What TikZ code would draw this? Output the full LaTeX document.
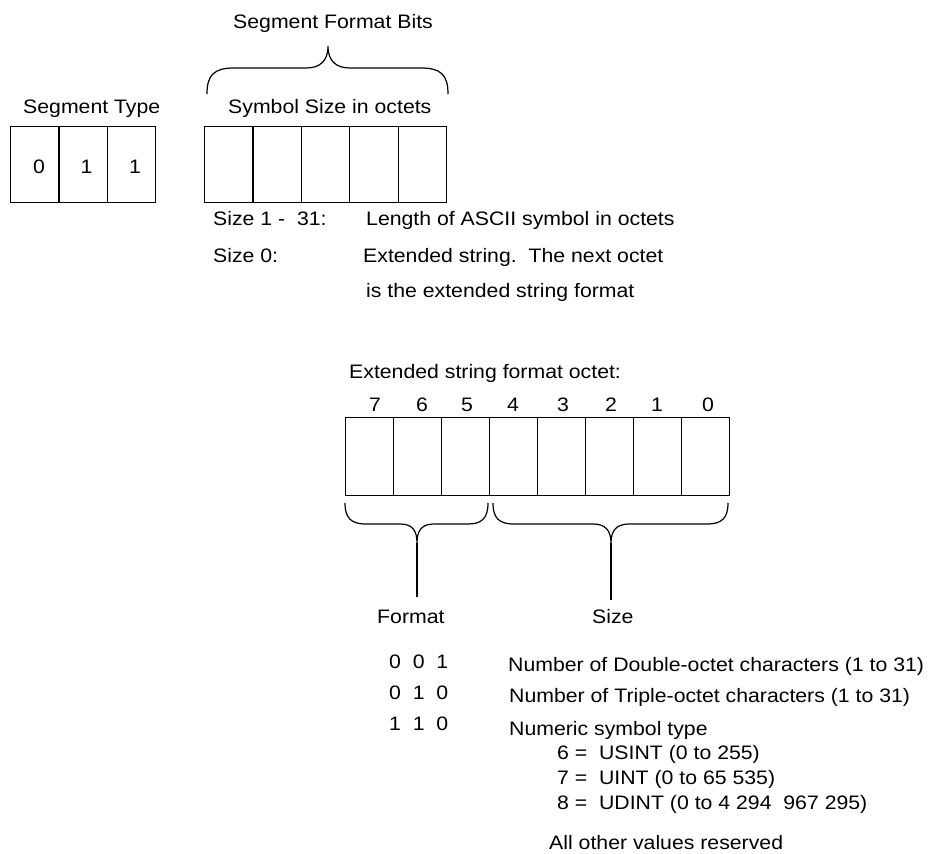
\documentclass[tikz,border=0pt]{standalone}
\usepackage{fontspec}
\setmainfont{Liberation Sans}[FakeStretch=1.09]
\begin{document}
\begin{tikzpicture}[x=1pt,y=-1pt,
  every node/.style={font=\fontsize{19.5pt}{23pt}\selectfont, inner sep=0pt},
  txt/.style={anchor=base west},
  ctr/.style={anchor=base},
  cell/.style={draw, line width=1.2pt, anchor=north west, minimum height=#1},
  cell/.default=76pt,
  brace/.style={line width=1.2pt},
  lead/.style={line width=1.2pt}]
\useasboundingbox (0,0) rectangle (929,854);

% segment type field
\foreach \i/\x in {1/10,2/58.3,3/106.7}
  \node[cell, minimum width=48.3pt] (st\i) at (\x,126) {};
\node[ctr] (d1) at (39,173) {0};
\node[ctr] (d2) at (86.5,173) {1};
\node[ctr] (d3) at (135,173) {1};
\node[txt] (sttitle) at (23,113) {Segment Type};

% symbol size field
\foreach \i/\x in {1/204,2/252.4,3/300.8,4/349.2,5/397.6}
  \node[cell, minimum width=48.4pt] (ss\i) at (\x,126) {};
\node[txt] (sstitle) at (228,113) {Symbol Size in octets};
\node[txt] (fmtbits) at (233,28) {Segment Format Bits};
\draw[brace] (207,94) .. controls (207,75) and (214,68) .. (234,68) -- (306,68)
  .. controls (320,68) and (328,61) .. (328,46)
  .. controls (328,61) and (336,68) .. (350,68) -- (421,68)
  .. controls (441,68) and (448,75) .. (448,94);

% size codes
\node[txt] (s131) at (213,225) {Size 1 -~~31:};
\node[txt] (s131d) at (366,225) {Length of ASCII symbol in octets};
\node[txt] (s0) at (213,262) {Size 0:};
\node[txt] (s0d) at (363,262) {Extended string.~~The next octet};
\node[txt] (s0e) at (366,297) {is the extended string format};

% extended string format octet
\node[txt] (exttitle) at (349,378) {Extended string format octet:};
\foreach \i/\x/\b/\c in {1/345/7/375,2/393/6/422,3/441/5/467,4/489/4/513,5/537/3/563,6/585/2/611,7/633/1/657,8/681/0/708}{
  \node[cell=78pt, minimum width=48pt] (oc\i) at (\x,417) {};
  \node[ctr] (bit\i) at (\c,411) {\b};
}

% braces under the octet
\draw[brace] (345,503) .. controls (345,518) and (351,524) .. (366,524) -- (400,524)
  .. controls (412,524) and (417,530) .. (417,543)
  .. controls (417,530) and (422,524) .. (434,524) -- (468,524)
  .. controls (482,524) and (488,518) .. (488,503);
\draw[brace] (493,503) .. controls (493,518) and (499,524) .. (514,524) -- (593,524)
  .. controls (605,524) and (611,530) .. (611,543)
  .. controls (611,530) and (617,524) .. (629,524) -- (707,524)
  .. controls (722,524) and (728,518) .. (728,503);
\coordinate (fmttip) at (417,543);
\coordinate (sizetip) at (611,543);

\node[txt] (fmtlbl) at (377,623) {Format};
\node[txt] (sizelbl) at (592,623) {Size};
\coordinate (fmtend) at (417,597);
\coordinate (sizeend) at (611,600);
\draw[lead] (fmttip) -- (fmtend);
\draw[lead] (sizetip) -- (sizeend);

% format codes
\node[txt] (f1) at (389,668) {0~~0~~1};
\node[txt] (f2) at (389,699) {0~~1~~0};
\node[txt] (f3) at (389,730) {1~~1~~0};
\node[txt] (f1d) at (508,671) {Number of Double-octet characters (1 to 31)};
\node[txt] (f2d) at (509,702) {Number of Triple-octet characters (1 to 31)};
\node[txt] (f3d) at (509,735) {Numeric symbol type};
\node[txt] (n6) at (557,759) {6 =~~USINT (0 to 255)};
\node[txt] (n7) at (557,784) {7 =~~UINT (0 to 65 535)};
\node[txt] (n8) at (557,809) {8 =~~UDINT (0 to 4 294~~967 295)};
\node[txt] (rsv) at (549,849) {All other values reserved};
\end{tikzpicture}
\end{document}
